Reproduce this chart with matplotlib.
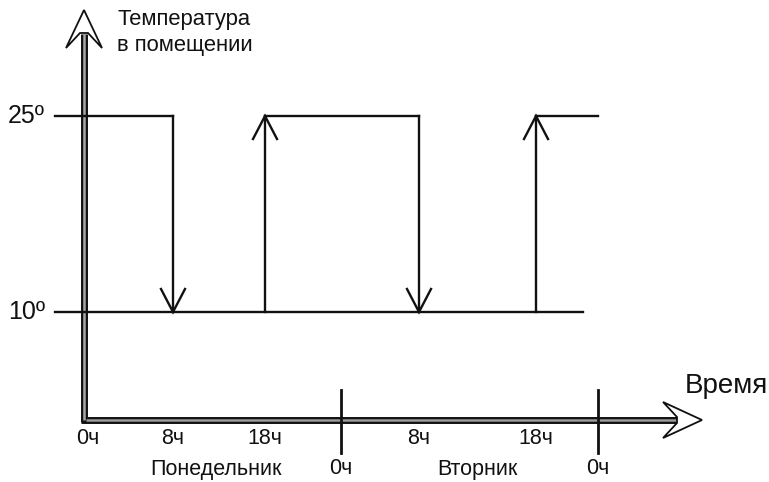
import matplotlib
matplotlib.use("Agg")
import matplotlib.pyplot as plt
from matplotlib.patches import Polygon
import numpy as np

plt.rcParams['font.family'] = ['Liberation Sans', 'DejaVu Sans']

# data: hours of the two days and where they sit on the drawn time axis
hours = [0, 8, 18, 24, 32, 42, 48]
hour_px = [84, 173, 265, 341, 419, 536, 598]
tick_labels = ["0ч", "8ч", "18ч", "0ч", "8ч", "18ч", "0ч"]
day_names = ["Понедельник", "Вторник"]
day_centers = [12.7, 37]        # hours, where the day names sit

temps = [10, 25]
temp_labels = ["10º", "25º"]

# heating schedule: (hour of switch, new setpoint)
switch_hours = [8, 18, 32, 42]
switch_temps = [10, 25, 10, 25]


def hx(h):
    return np.interp(h, hours, hour_px)


def ty(t):
    # 25 -> 116 px, 10 -> 312 px
    return 312 - (t - 10) * (312 - 116) / 15


fig = plt.figure(figsize=(7.69, 4.82), dpi=100)
ax = fig.add_axes([0, 0, 1, 1])
ax.set_xlim(0, 769)
ax.set_ylim(482, 0)
ax.axis("off")

lw = 1.7
k = "#111111"
fs_tick = 15.5

# axes as double lines
x0, y0 = hx(0), 420
ax.plot([x0, x0], [y0 + 2, 34], color=k, lw=5, solid_capstyle="butt", zorder=2)
ax.plot([x0, x0], [y0, 34], color="#a8a8a8", lw=1.8, solid_capstyle="butt", zorder=3)
ax.plot([x0 - 3, 678], [y0, y0], color=k, lw=5, solid_capstyle="butt", zorder=2)
ax.plot([x0 + 2, 678], [y0, y0], color="#9a9a9a", lw=1.8, solid_capstyle="butt", zorder=3)

ax.add_patch(Polygon([(84, 10), (102, 48), (88, 33), (80, 33), (66, 48)],
                     closed=True, fc="white", ec=k, lw=1.3, zorder=4))
ax.add_patch(Polygon([(702, 420), (663, 438), (677, 423), (677, 417), (663, 402)],
                     closed=True, fc="white", ec=k, lw=1.3, zorder=4))

# day boundary ticks
for h in [24, 48]:
    ax.plot([hx(h), hx(h)], [390, 453], color=k, lw=2, zorder=5)

# tick labels
for h, lab in zip(hours, tick_labels):
    yl = 468 if h in (24, 48) else 439
    xoff = 4 if h == 0 else 0
    ax.text(hx(h) + xoff, yl, lab, ha="center", va="center", fontsize=fs_tick, color=k)
for h, name in zip(day_centers, day_names):
    ax.text(hx(h), 470, name, ha="center", va="center", fontsize=fs_tick, color=k)

# temperature levels
for t, lab in zip(temps, temp_labels):
    ax.text(8, ty(t), lab, ha="left", va="center", fontsize=18, color=k)
ax.plot([55, 583], [ty(10), ty(10)], color=k, lw=lw, zorder=5)
ax.plot([55, hx(8)], [ty(25), ty(25)], color=k, lw=lw, zorder=5)
ax.plot([hx(18), hx(32)], [ty(25), ty(25)], color=k, lw=lw, zorder=5)
ax.plot([hx(42), hx(48)], [ty(25), ty(25)], color=k, lw=lw, zorder=5)

# switching arrows
for h, t in zip(switch_hours, switch_temps):
    x = hx(h)
    ax.plot([x, x], [ty(10), ty(25)], color=k, lw=lw, zorder=5)
    tip = ty(t)
    d = 23 if t == 10 else -23
    ax.plot([x - 12, x, x + 12], [tip - d, tip, tip - d], color=k, lw=lw,
            solid_joinstyle="miter", zorder=5)

ax.text(117, 20, "Температура", ha="left", va="center", fontsize=15.8, color=k)
ax.text(117, 45, "в помещении", ha="left", va="center", fontsize=15.8, color=k)
ax.text(685, 386, "Время", ha="left", va="center", fontsize=20, color=k)

fig.savefig("out.png", dpi=100)
